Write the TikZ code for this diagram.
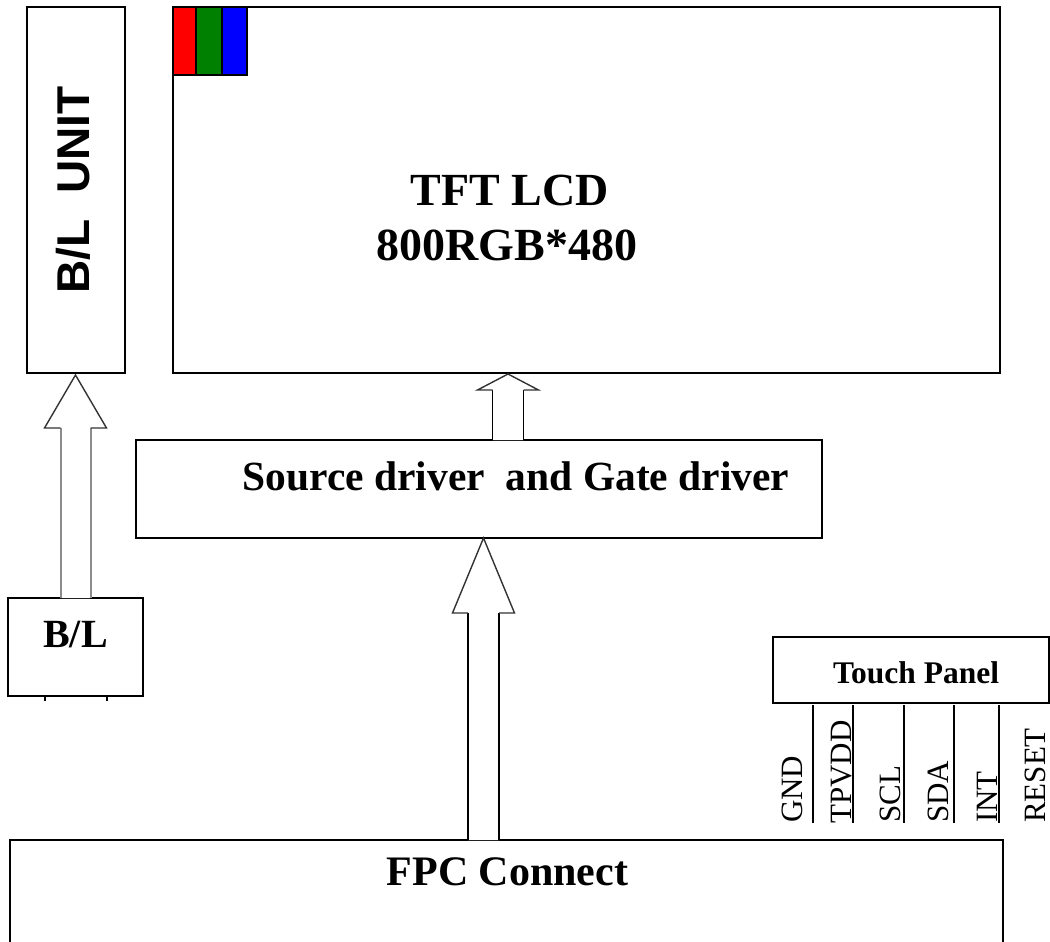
\documentclass[tikz,border=0pt]{standalone}
\usepackage{fontspec}
\setmainfont{Liberation Serif}
\newfontfamily\arialfont{Liberation Sans}
\usetikzlibrary{calc}
\definecolor{rgbgreen}{HTML}{008000}
\tikzset{
  box/.style={draw=black, line width=2pt, rectangle, inner sep=0pt, outer sep=0pt},
  pinline/.style={draw=black, line width=1.5pt},
  pinlabel/.style={rotate=90, anchor=base west, inner sep=0pt, font=\fontsize{31}{31}\selectfont},
  txt/.style={anchor=base, inner sep=0pt},
  headline/.style={draw=black!80, line width=1.4pt, line join=miter},
  shaftline/.style={draw=black, line width=1.5pt}
}
% block arrow: #1 start, #2 tip, #3 half shaft, #4 half head, #5 head length, #6 shaft style
\newcommand\blockarr[6]{%
  \fill[white] let \p1=(#1), \p2=(#2) in
    (\x1-#3,\y1) -- (\x1-#3,\y2-#5) -- (\x1-#4,\y2-#5) -- (\x1,\y2) -- (\x1+#4,\y2-#5) -- (\x1+#3,\y2-#5) -- (\x1+#3,\y1) -- cycle;
  \draw[#6] let \p1=(#1), \p2=(#2) in (\x1-#3,\y1) -- (\x1-#3,\y2-#5) (\x1+#3,\y2-#5) -- (\x1+#3,\y1);
  \draw[headline] let \p1=(#1), \p2=(#2) in
    (\x1-#3,\y2-#5) -- (\x1-#4,\y2-#5) -- (\x1,\y2) -- (\x1+#4,\y2-#5) -- (\x1+#3,\y2-#5);
}
\begin{document}
\begin{tikzpicture}[x=1pt, y=-1pt]
\useasboundingbox (0,0) rectangle (1050,942);
\clip (0,0) rectangle (1050,942);
\fill[white] (0,0) rectangle (1050,942);

% boxes
\node[box, minimum width=98pt, minimum height=366pt] (blunit) at (76,190) {};
\node[rotate=90, inner sep=0pt, font=\arialfont\bfseries\fontsize{46}{46}\selectfont] (blunittext) at (73,190) {B/L\ \ UNIT};

\node[box, minimum width=827pt, minimum height=366pt] (tft) at (586.5,190) {};
\node[box, fill=red, minimum width=23pt, minimum height=68pt] (rr) at (184.5,41) {};
\node[box, fill=rgbgreen, minimum width=26pt, minimum height=68pt] (gg) at (209,41) {};
\node[box, fill=blue, minimum width=25pt, minimum height=68pt] (bb) at (234.5,41) {};
\node[txt, font=\bfseries\fontsize{46}{46}\selectfont] (tfttext1) at (509.5,205) {TFT LCD};
\node[txt, font=\bfseries\fontsize{46}{46}\selectfont] (tfttext2) at (507,260) {800RGB*480};

\node[box, minimum width=686pt, minimum height=98pt] (src) at (479,489) {};
\node[txt, font=\bfseries\fontsize{41.5}{41.5}\selectfont] (srctext) at (516,490) {Source driver\ \ and Gate driver};

\node[box, minimum width=135pt, minimum height=98pt] (bl) at (75.5,647) {};
\node[txt, font=\bfseries\fontsize{40}{40}\selectfont] (bltext) at (75.5,647) {B/L};
\draw[line width=1.2pt] (45,697) -- (45,701) (107,697) -- (107,701);

\node[box, minimum width=993pt, minimum height=200pt] (fpc) at (506.5,940) {};
\node[txt, font=\bfseries\fontsize{42}{42}\selectfont] (fpctext) at (507.5,885) {FPC Connect};

\node[box, minimum width=276pt, minimum height=66pt] (touch) at (911,670) {};
\node[txt, font=\bfseries\fontsize{31.5}{31.5}\selectfont] (touchtext) at (916,683) {Touch Panel};

% pins
\foreach \x/\n in {813/p1, 853/p2, 904/p3, 954/p4, 999/p5} {
  \coordinate (\n top) at (\x,705);
  \coordinate (\n bot) at (\x,823);
  \draw[pinline] (\n top) -- (\n bot);
}
\node[pinlabel] (gnd) at (802,823) {GND};
\node[pinlabel] (tpvdd) at (851,824) {TPVDD};
\node[pinlabel] (scl) at (900,823) {SCL};
\node[pinlabel] (sda) at (948,823) {SDA};
\node[pinlabel] (int) at (997,823) {INT};
\node[pinlabel] (reset) at (1045,823) {RESET};

% block arrows
\blockarr{bl.north}{$(blunit.south)+(0,2)$}{15pt}{31pt}{53pt}{draw=black!45, line width=2pt}
\blockarr{$(src.north)+(29,0)$}{$(tft.south)+(0,1)$}{15.5pt}{30.5pt}{16pt}{shaftline}
\blockarr{$(fpc.north)+(-23,0)$}{src.south}{15.5pt}{31pt}{75pt}{shaftline}
\end{tikzpicture}
\end{document}
